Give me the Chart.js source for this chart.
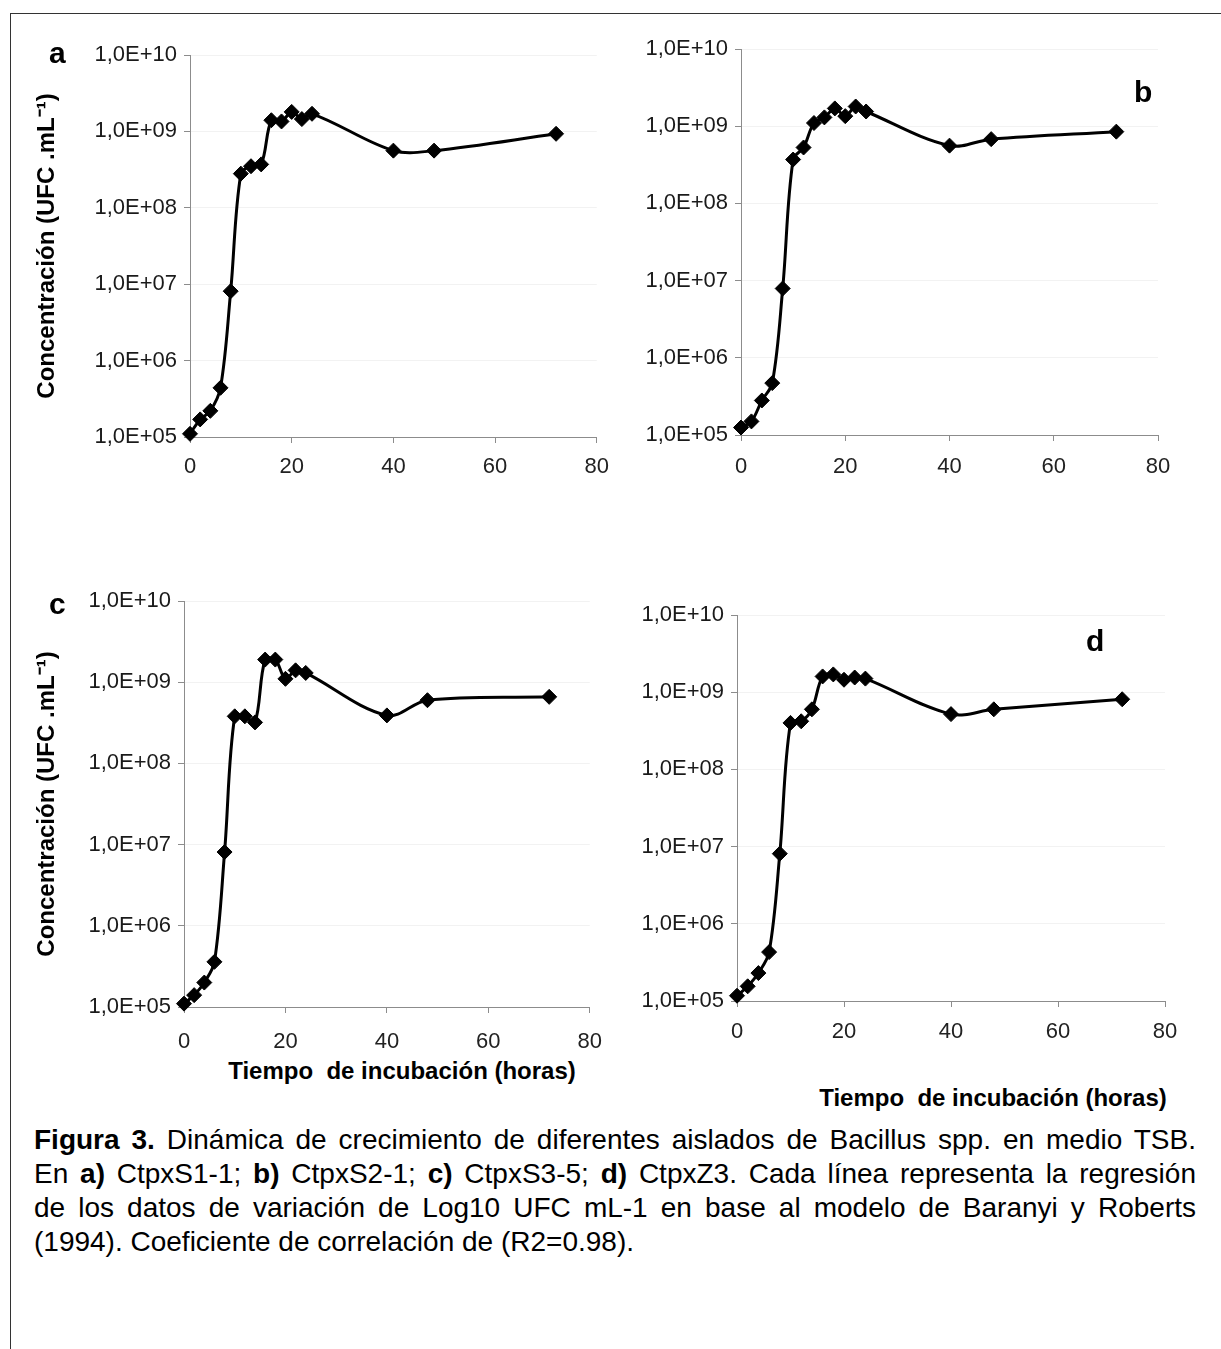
<!DOCTYPE html>
<html>
<head>
<meta charset="utf-8">
<title>Figura 3 - Dinámica de crecimiento</title>
<script src="https://cdn.jsdelivr.net/npm/chart.js@4/dist/chart.umd.min.js"></script>
<style>
  body { margin: 0; background: #fff; font-family: "Liberation Sans", Arial, sans-serif; }
  #page { position: relative; width: 1221px; height: 1349px; overflow: hidden; }
  #frame { position: absolute; left: 10px; top: 13px; width: 1300px; height: 1400px;
           border-left: 1.5px solid #333; border-top: 1.5px solid #333; }
  .panel { position: absolute; }
  .letter { position: absolute; font-weight: bold; font-size: 30px; line-height: 1; color: #000; }
  .xtitle { position: absolute; font-weight: bold; font-size: 24px; line-height: 1; color: #000;
            transform: translateX(-50%); white-space: pre; }
  #caption { position: absolute; left: 34px; width: 1162px; top: 1123px;
             font-size: 28px; line-height: 34px; color: #000; }
  #caption div { text-align: justify; text-align-last: justify; white-space: nowrap; }
  #caption div.last { text-align-last: left; }
</style>
</head>
<body>
<div id="page">
  <div id="frame"></div>

  <div class="panel" style="left:12px; top:25px; width:608px; height:462px;"><canvas id="chartA"></canvas></div>
  <div class="panel" style="left:612px; top:25px; width:600px; height:460px;"><canvas id="chartB"></canvas></div>
  <div class="panel" style="left:12px; top:570px; width:606px; height:487px;"><canvas id="chartC"></canvas></div>
  <div class="panel" style="left:612px; top:570px; width:600px; height:481px;"><canvas id="chartD"></canvas></div>

  <!-- panel letters -->
  <div class="letter" style="left:49px; top:38px;">a</div>
  <div class="letter" style="left:1134px; top:77px;">b</div>
  <div class="letter" style="left:49px; top:589px;">c</div>
  <div class="letter" style="left:1086px; top:626px;">d</div>

  <!-- x axis titles (only under the bottom row) -->
  <div class="xtitle" style="left:402px; top:1059px;">Tiempo  de incubación (horas)</div>
  <div class="xtitle" style="left:993px; top:1086px;">Tiempo  de incubación (horas)</div>

  <div id="caption">
    <div><b>Figura 3.</b> Dinámica de crecimiento de diferentes aislados de Bacillus spp. en medio TSB.</div>
    <div>En <b>a)</b> CtpxS1-1; <b>b)</b> CtpxS2-1; <b>c)</b> CtpxS3-5; <b>d)</b> CtpxZ3. Cada línea representa la regresión</div>
    <div>de los datos de variación de Log10 UFC mL-1 en base al modelo de Baranyi y Roberts</div>
    <div class="last">(1994). Coeficiente de correlación de (R2=0.98).</div>
  </div>
</div>

<script>
// ------------------------------ Data ---------------------------------------//
// Sampling times (hours) - same for all four isolates
const hours = [0, 2, 4, 6, 8, 10, 12, 14, 16, 18, 20, 22, 24, 40, 48, 72];

// Concentration (UFC/mL)
const ufcA = [1.1e5, 1.7e5, 2.2e5, 4.4e5, 8.1e6, 2.8e8, 3.5e8, 3.7e8, 1.4e9, 1.35e9, 1.8e9, 1.45e9, 1.7e9, 5.6e8, 5.6e8, 9.3e8];
const ufcB = [1.25e5, 1.5e5, 2.8e5, 4.7e5, 7.9e6, 3.7e8, 5.3e8, 1.1e9, 1.3e9, 1.7e9, 1.35e9, 1.8e9, 1.55e9, 5.6e8, 6.8e8, 8.5e8];
const ufcC = [1.1e5, 1.4e5, 2.0e5, 3.6e5, 8.1e6, 3.8e8, 3.8e8, 3.2e8, 1.9e9, 1.9e9, 1.1e9, 1.4e9, 1.3e9, 3.9e8, 6.0e8, 6.6e8];
const ufcD = [1.17e5, 1.55e5, 2.3e5, 4.3e5, 8.1e6, 4.0e8, 4.2e8, 6.0e8, 1.6e9, 1.7e9, 1.45e9, 1.55e9, 1.5e9, 5.2e8, 6.0e8, 8.1e8];

// Axis ticks
const yTicks = [1e5, 1e6, 1e7, 1e8, 1e9, 1e10];
const yTickLabels = ['1,0E+05', '1,0E+06', '1,0E+07', '1,0E+08', '1,0E+09', '1,0E+10'];
const xTicks = [0, 20, 40, 60, 80];

const yTitle = 'Concentración (UFC .mL⁻¹)';

// ------------------------------ Chart builder ------------------------------//
// yWidth fixes the y axis box so the plot area lands where it should
function makePanel(canvasId, values, opts) {
  const points = hours.map((h, i) => ({ x: h, y: values[i] }));

  return new Chart(document.getElementById(canvasId), {
    type: 'scatter',
    data: {
      datasets: [{
        data: points,
        showLine: true,
        tension: 0.35,
        borderColor: '#000',
        borderWidth: 3,
        backgroundColor: '#000',
        pointStyle: 'rectRot',
        pointRadius: 7.5,
        pointBorderWidth: 1,
        pointBorderColor: '#000',
        pointBackgroundColor: '#000',
        clip: false
      }]
    },
    options: {
      responsive: true,
      maintainAspectRatio: false,
      animation: false,
      events: [],
      layout: {
        padding: { left: 0, top: opts.padTop, right: opts.padRight, bottom: 0 }
      },
      plugins: {
        legend: { display: false },
        tooltip: { enabled: false }
      },
      scales: {
        x: {
          type: 'linear',
          min: 0,
          max: 80,
          afterBuildTicks: (scale) => { scale.ticks = xTicks.map(v => ({ value: v })); },
          afterFit: (scale) => { scale.height = 50; },
          ticks: {
            color: '#222',
            padding: opts.xPad,
            font: { family: '"Liberation Sans", Arial, sans-serif', size: 22 }
          },
          grid: {
            drawOnChartArea: false,
            tickLength: 6,
            color: '#8c8c8c'
          },
          border: { color: '#8c8c8c', width: 1 }
        },
        y: {
          type: 'logarithmic',
          min: 1e5,
          max: 1e10,
          afterBuildTicks: (scale) => { scale.ticks = yTicks.map(v => ({ value: v })); },
          afterFit: (scale) => { scale.width = opts.yWidth; },
          ticks: {
            color: '#1a1a1a',
            padding: 7,
            font: { family: '"Liberation Sans", Arial, sans-serif', size: 22 },
            callback: function(value) {
              const i = yTicks.indexOf(value);
              return i >= 0 ? yTickLabels[i] : '';
            }
          },
          grid: {
            tickLength: 6,
            color: '#f2f2f2',
            tickColor: '#8c8c8c'
          },
          border: { color: '#8c8c8c', width: 1 },
          title: {
            display: opts.showYTitle,
            text: yTitle,
            color: '#000',
            padding: { top: 21, bottom: 0 },
            font: { family: '"Liberation Sans", Arial, sans-serif', size: 24, weight: 'bold' }
          }
        }
      }
    }
  });
}

// ------------------------------ Build the four panels ----------------------//
makePanel('chartA', ufcA, { yWidth: 178, padTop: 30, padRight: 22, xPad: 11, showYTitle: true });
makePanel('chartB', ufcB, { yWidth: 129, padTop: 24, padRight: 54, xPad: 13, showYTitle: false });
makePanel('chartC', ufcC, { yWidth: 172, padTop: 31, padRight: 22, xPad: 16, showYTitle: true });
makePanel('chartD', ufcD, { yWidth: 125, padTop: 45, padRight: 47, xPad: 12, showYTitle: false });
</script>
</body>
</html>
